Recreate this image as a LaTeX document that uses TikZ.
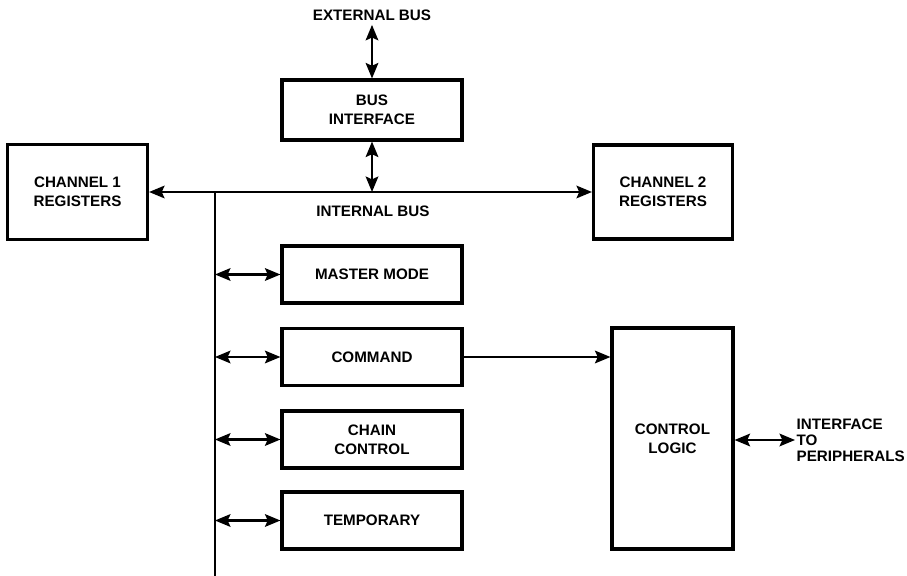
\documentclass[tikz,border=0pt]{standalone}
\usepackage{fontspec}
\setmainfont{Liberation Sans}
\usepackage{tikz}
\usetikzlibrary{arrows.meta,positioning}
\tikzset{
  regbox/.style={
    rectangle, draw=black, line width=2.2pt,
    minimum width=4.5cm, minimum height=1.425cm,
    font=\fontsize{10.8}{13.5}\selectfont\bfseries, align=center,
    inner sep=3pt
  },
  buslabel/.style={
    font=\fontsize{10.8}{13.5}\selectfont\bfseries, align=center, inner sep=1pt
  },
  dataarrow/.style={
    {Stealth[length=11pt,width=9pt,inset=2pt]}-{Stealth[length=11pt,width=9pt,inset=2pt]},
    line width=1.5pt
  },
  onearrow/.style={
    -{Stealth[length=11pt,width=9pt,inset=2pt]}, line width=1.5pt
  },
  busline/.style={line width=1.6pt},
}

\begin{document}
\begin{tikzpicture}[x=0.025cm, y=-0.025cm]
  \useasboundingbox (0,0) rectangle (907,576);
  % bus interface and external bus
  \node[buslabel] (extbus) at (372,15) {EXTERNAL BUS};
  \node[regbox, minimum height=1.5cm] (busif) at (372,110) {BUS\\INTERFACE};
  \draw[dataarrow] ([yshift=-2pt]extbus.south) -- (busif.north);
  % channel registers on the internal bus
  \node[regbox, minimum width=3.5cm, minimum height=2.375cm] (ch1) at (77.5,192) {CHANNEL 1\\REGISTERS};
  \node[regbox, minimum width=3.475cm, minimum height=2.35cm] (ch2) at (663,192) {CHANNEL 2\\REGISTERS};
  \draw[dataarrow] (ch1.east) -- (ch2.west);
  \coordinate (ibus) at (372,192);
  \draw[dataarrow] (busif.south) -- (ibus);
  \node[buslabel] (ibuslbl) at (373,211) {INTERNAL BUS};
  % vertical bus
  \coordinate (vtop) at (215,192);
  \coordinate (vbot) at (215,576);
  \draw[busline] (vtop) -- (vbot);
  % registers
  \node[regbox] (master) at (372,274.5) {MASTER MODE};
  \node[regbox] (cmd) at (372,357) {COMMAND};
  \node[regbox] (chain) at (372,439.5) {CHAIN\\CONTROL};
  \node[regbox] (temp) at (372,520.5) {TEMPORARY};
  \foreach \r in {master,cmd,chain,temp}
    \draw[dataarrow] (\r.west -| vtop) -- (\r.west);
  % control logic
  \node[regbox, minimum width=3.025cm, minimum height=5.525cm] (ctrl) at (672.5,438.5) {CONTROL\\LOGIC};
  \draw[onearrow] (cmd.east) -- (cmd.east -| ctrl.west);
  \node[buslabel, anchor=west, align=left, font=\fontsize{10.8}{11.5}\selectfont\bfseries] (periph) at (795,440) {INTERFACE\\TO\\PERIPHERALS};
  \draw[dataarrow] (ctrl.east |- periph.west) -- (periph.west);
\end{tikzpicture}
\end{document}
